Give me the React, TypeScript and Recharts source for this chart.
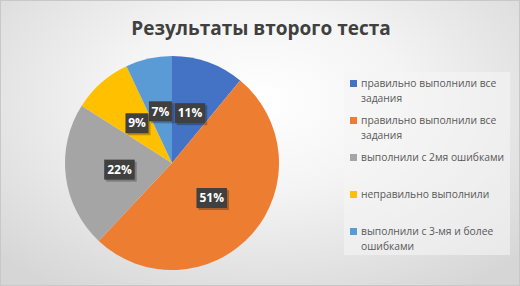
import React from 'react';
import { PieChart, Pie, Cell, Legend } from 'recharts';

const categories = [
  'правильно выполнили все задания',
  'правильно выполнили все задания',
  'выполнили с 2мя ошибками',
  'неправильно выполнили',
  'выполнили с 3-мя и более ошибками',
];
const values = [11, 51, 22, 9, 7];
const colors = ['#4472C4', '#ED7D31', '#A5A5A5', '#FFC000', '#5B9BD5'];

const data = categories.map((name, i) => ({ name, value: values[i] }));

const RAD = Math.PI / 180;

// тёмная плашка с процентом, как в Excel
const renderLabel = (props: any) => {
  const { cx, cy, midAngle, outerRadius, percent } = props;
  const r = outerRadius * 0.495;
  const x = cx + r * Math.cos(-midAngle * RAD);
  const y = cy + r * Math.sin(-midAngle * RAD);
  const text = `${Math.round(percent * 100)}%`;
  const w = text.length * 7.5 + 8;
  const h = 20;
  return (
    <g>
      <rect x={x - w / 2 + 2} y={y - h / 2 + 2} width={w} height={h} fill="rgba(0,0,0,0.25)" />
      <rect x={x - w / 2} y={y - h / 2} width={w} height={h} fill="#404040" />
      <text
        x={x}
        y={y + 1}
        fill="#ffffff"
        textAnchor="middle"
        dominantBaseline="middle"
        fontSize={12}
        fontWeight="bold"
        fontFamily="'Open Sans', sans-serif"
      >
        {text}
      </text>
    </g>
  );
};

const renderLegend = () => (
  <div
    style={{
      width: 166,
      height: 183,
      background: 'rgba(245,245,245,0.6)',
      paddingTop: 4,
      boxSizing: 'border-box',
      fontFamily: "'Open Sans', sans-serif",
      fontSize: 10.3,
      color: '#595959',
    }}
  >
    {data.map((d, i) => (
      <div key={i} style={{ height: 37, display: 'flex', alignItems: 'flex-start', paddingLeft: 6 }}>
        <span
          style={{
            width: 7,
            height: 7,
            background: colors[i],
            marginTop: 4,
            marginRight: 4,
            flexShrink: 0,
          }}
        />
        <span style={{ lineHeight: '15px' }}>{d.name}</span>
      </div>
    ))}
  </div>
);

export default function App() {
  return (
    <div
      style={{
        position: 'relative',
        width: 520,
        height: 286,
        boxSizing: 'border-box',
        border: '1px solid #c8c8c8',
        background: 'radial-gradient(ellipse 70% 80% at 50% 35%, #ffffff 0%, #f4f4f4 40%, #d6d6d6 100%)',
        overflow: 'hidden',
      }}
    >
      <style>{'body{margin:0}'}</style>
      <div
        style={{
          position: 'absolute',
          top: 14,
          left: 0,
          width: 520,
          textAlign: 'center',
          fontFamily: "'Open Sans', sans-serif",
          fontWeight: 'bold',
          fontSize: 19,
          color: '#404040',
        }}
      >
        Результаты второго теста
      </div>
      <PieChart
        width={518}
        height={284}
        margin={{ top: 0, right: 0, bottom: 0, left: 0 }}
        style={{ position: 'absolute', top: 0, left: 0 }}
      >
        <Pie
          data={data}
          dataKey="value"
          nameKey="name"
          cx={171}
          cy={162}
          outerRadius={107}
          startAngle={90}
          endAngle={-270}
          stroke="none"
          label={renderLabel}
          labelLine={false}
          isAnimationActive={false}
        >
          {data.map((d, i) => (
            <Cell key={i} fill={colors[i]} />
          ))}
        </Pie>
        <Legend
          content={renderLegend}
          wrapperStyle={{ position: 'absolute', left: 343, top: 71, width: 166 }}
        />
      </PieChart>
    </div>
  );
}
